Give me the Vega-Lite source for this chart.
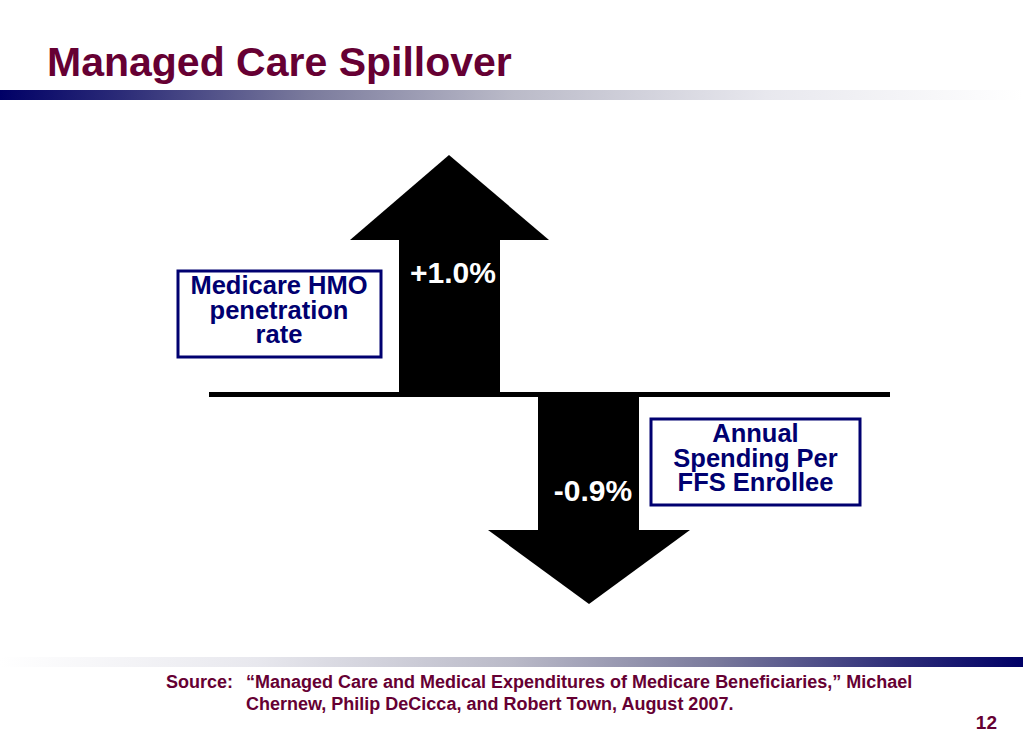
{
  "$schema": "https://vega.github.io/schema/vega-lite/v6.json",
  "autosize": {"type": "fit", "contains": "padding"},
  "width": 1023,
  "height": 744,
  "padding": 0,
  "background": "white",
  "config": {"view": {"stroke": null}},
  "datasets": {
    "bands": [
      {"band": "top", "x": 0, "x2": 1023, "y": 90, "y2": 100},
      {"band": "bottom", "x": 0, "x2": 1023, "y": 657, "y2": 667}
    ],
    "axisline": [{"x": 209, "x2": 890, "y": 392, "y2": 397}],
    "shafts": [
      {"arrow": "up", "value": 1.0, "x": 399, "x2": 500, "y": 240, "y2": 394},
      {"arrow": "down", "value": -0.9, "x": 538, "x2": 639, "y": 396, "y2": 531}
    ],
    "heads": [
      {"arrow": "up", "x": 350, "y": 240, "y2": 240},
      {"arrow": "up", "x": 449, "y": 155, "y2": 240},
      {"arrow": "up", "x": 549, "y": 240, "y2": 240},
      {"arrow": "down", "x": 488, "y": 530, "y2": 530},
      {"arrow": "down", "x": 589, "y": 604, "y2": 530},
      {"arrow": "down", "x": 690, "y": 530, "y2": 530}
    ],
    "boxes": [
      {"box": "HMO", "x": 178, "x2": 381, "y": 271, "y2": 357},
      {"box": "Spending", "x": 651, "x2": 860, "y": 419, "y2": 505}
    ],
    "boxtext": [
      {"x": 279, "y": 294, "label": ["Medicare HMO", "penetration", "rate"]},
      {"x": 755.5, "y": 442, "label": ["Annual", "Spending Per", "FFS Enrollee"]}
    ],
    "pct": [
      {"x": 453, "y": 283, "label": "+1.0%"},
      {"x": 593, "y": 501, "label": "-0.9%"}
    ],
    "title": [{"x": 47, "y": 76, "label": "Managed Care Spillover"}],
    "source": [
      {"x": 166, "y": 688, "label": "Source:"},
      {"x": 246, "y": 688, "label": "“Managed Care and Medical Expenditures of Medicare Beneficiaries,” Michael"},
      {"x": 246, "y": 710, "label": "Chernew, Philip DeCicca, and Robert Town, August 2007."}
    ],
    "page": [{"x": 997, "y": 729, "label": "12"}]
  },
  "encoding": {
    "x": {"field": "x", "type": "quantitative", "axis": null, "scale": {"domain": [0, 1023], "nice": false, "zero": false}},
    "y": {"field": "y", "type": "quantitative", "axis": null, "scale": {"domain": [0, 744], "nice": false, "zero": false, "reverse": true}}
  },
  "layer": [
    {
      "data": {"name": "bands"},
      "transform": [{"filter": "datum.band === 'top'"}],
      "mark": {"type": "rect", "color": {"gradient": "linear", "x1": 0, "y1": 0, "x2": 1, "y2": 0, "stops": [
        {"offset": 0, "color": "#000066"},
        {"offset": 0.12, "color": "#2c2c78"},
        {"offset": 0.3, "color": "#7a7a9c"},
        {"offset": 0.5, "color": "#babac8"},
        {"offset": 0.75, "color": "#e8e8ee"},
        {"offset": 1, "color": "#ffffff"}]}},
      "encoding": {"x2": {"field": "x2"}, "y2": {"field": "y2"}}
    },
    {
      "data": {"name": "bands"},
      "transform": [{"filter": "datum.band === 'bottom'"}],
      "mark": {"type": "rect", "color": {"gradient": "linear", "x1": 0, "y1": 0, "x2": 1, "y2": 0, "stops": [
        {"offset": 0, "color": "#ffffff"},
        {"offset": 0.25, "color": "#e8e8ee"},
        {"offset": 0.5, "color": "#babac8"},
        {"offset": 0.7, "color": "#7a7a9c"},
        {"offset": 0.88, "color": "#2c2c78"},
        {"offset": 1, "color": "#000066"}]}},
      "encoding": {"x2": {"field": "x2"}, "y2": {"field": "y2"}}
    },
    {
      "data": {"name": "axisline"},
      "mark": {"type": "rect", "color": "black"},
      "encoding": {"x2": {"field": "x2"}, "y2": {"field": "y2"}}
    },
    {
      "data": {"name": "shafts"},
      "mark": {"type": "rect", "color": "black"},
      "encoding": {"x2": {"field": "x2"}, "y2": {"field": "y2"}}
    },
    {
      "data": {"name": "heads"},
      "mark": {"type": "area", "color": "black", "opacity": 1, "orient": "vertical"},
      "encoding": {"y2": {"field": "y2"}, "detail": {"field": "arrow"}}
    },
    {
      "data": {"name": "boxes"},
      "mark": {"type": "rect", "fill": "white", "stroke": "#000070", "strokeWidth": 3},
      "encoding": {"x2": {"field": "x2"}, "y2": {"field": "y2"}}
    },
    {
      "data": {"name": "boxtext"},
      "mark": {"type": "text", "font": "Liberation Sans", "fontWeight": "bold", "fontSize": 25.5, "lineHeight": 24.5, "color": "#000070", "align": "center", "baseline": "alphabetic"},
      "encoding": {"text": {"field": "label"}}
    },
    {
      "data": {"name": "pct"},
      "mark": {"type": "text", "font": "Liberation Sans", "fontWeight": "bold", "fontSize": 30, "color": "white", "align": "center", "baseline": "alphabetic"},
      "encoding": {"text": {"field": "label"}}
    },
    {
      "data": {"name": "title"},
      "mark": {"type": "text", "font": "Liberation Sans", "fontWeight": "bold", "fontSize": 41, "color": "#660033", "align": "left", "baseline": "alphabetic"},
      "encoding": {"text": {"field": "label"}}
    },
    {
      "data": {"name": "source"},
      "mark": {"type": "text", "font": "Liberation Sans", "fontWeight": "bold", "fontSize": 18, "color": "#660033", "align": "left", "baseline": "alphabetic"},
      "encoding": {"text": {"field": "label"}}
    },
    {
      "data": {"name": "page"},
      "mark": {"type": "text", "font": "Liberation Sans", "fontWeight": "bold", "fontSize": 19, "color": "#660033", "align": "right", "baseline": "alphabetic"},
      "encoding": {"text": {"field": "label"}}
    }
  ]
}
